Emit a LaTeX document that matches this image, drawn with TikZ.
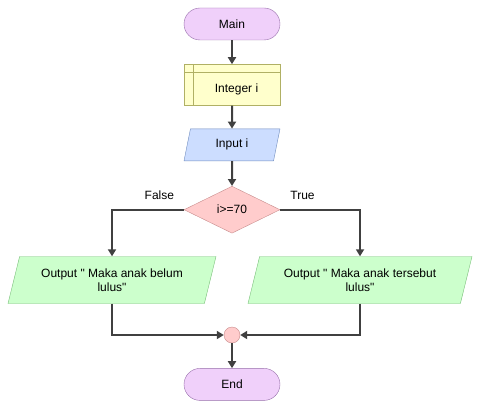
\documentclass[tikz,border=0pt]{standalone}
\usepackage{fontspec}
\setmainfont{Liberation Sans}[Ligatures=TeXOff]
\usepackage{tikz}
\usetikzlibrary{positioning,calc,arrows.meta,shapes.geometric}
\usepackage{xcolor}
\definecolor{termfill}{RGB}{240,208,250}
\definecolor{termdraw}{RGB}{150,110,170}
\definecolor{varfill}{RGB}{255,255,204}
\definecolor{vardraw}{RGB}{176,176,100}
\definecolor{infill}{RGB}{204,221,255}
\definecolor{indraw}{RGB}{112,140,190}
\definecolor{decfill}{RGB}{255,204,204}
\definecolor{decdraw}{RGB}{200,140,140}
\definecolor{outfill}{RGB}{204,255,204}
\definecolor{outdraw}{RGB}{120,190,120}
\definecolor{myarrow}{RGB}{64,64,64}

\begin{document}
\begin{tikzpicture}[font=\fontsize{12}{14}\selectfont,
term/.style={rectangle,rounded corners=16pt,minimum width=96pt,minimum height=32pt,fill=termfill,draw=termdraw},
varbox/.style={rectangle,minimum width=96pt,minimum height=41pt,fill=varfill,draw=vardraw},
io/.style={trapezium,trapezium stretches body,align=center,inner sep=0pt},
decision/.style={diamond,aspect=2,minimum width=96pt,minimum height=47pt,inner sep=0pt,fill=decfill,draw=decdraw},
joint/.style={circle,minimum size=16pt,inner sep=0pt,fill=decfill,draw=decdraw},
edge/.style={-{Triangle[width=8pt,length=7pt]},line width=2pt,color=myarrow}]

\useasboundingbox (0,0) rectangle (481pt,-409pt);

% nodes
\node[term] (main) at (232pt,-24pt) {Main};
\node[varbox,below=24pt of main] (int) {};
\node (intlabel) at ($(int.center)+(4.5pt,-4pt)$) {Integer i};
\node[io,below=23pt of int,trapezium left angle=60,trapezium right angle=120,
      minimum width=96pt,minimum height=32pt,fill=infill,draw=indraw] (inp) {Input i};
\node[decision,below=25pt of inp] (dec) {i>=70};

\node[io,trapezium left angle=63,trapezium right angle=117,minimum width=208pt,
      minimum height=47pt,fill=outfill,draw=outdraw] (outf) at (112pt,-280pt)
    {Output " Maka anak belum\\lulus"};
\node[io,trapezium left angle=63,trapezium right angle=117,minimum width=224pt,
      minimum height=47pt,fill=outfill,draw=outdraw] (outt) at (360pt,-280pt)
    {Output " Maka anak tersebut\\lulus"};

\node[joint] (join) at (232pt,-335pt) {};
\node[term,below=25pt of join] (end) {End};

% inner lines of the variable box
\draw[vardraw] ($(int.north west)+(9pt,0)$) -- ($(int.south west)+(9pt,0)$);
\draw[vardraw] ($(int.north west)+(0,-8pt)$) -- ($(int.north east)+(0,-8pt)$);

% edges
\draw[edge] (main) -- (int);
\draw[edge] (int) -- (inp);
\draw[edge] (inp) -- (dec);
\draw[edge] (dec.west) -| (outf.north) node [pos=0.17, above=6pt, color=black] {False};
\draw[edge] (dec.east) -| (outt.north) node [pos=0.14, above=6pt, color=black] {True};
\draw[edge] (outf.south) |- (join.west);
\draw[edge] (outt.south) |- (join.east);
\draw[edge] (join) -- (end);

\end{tikzpicture}
\end{document}
